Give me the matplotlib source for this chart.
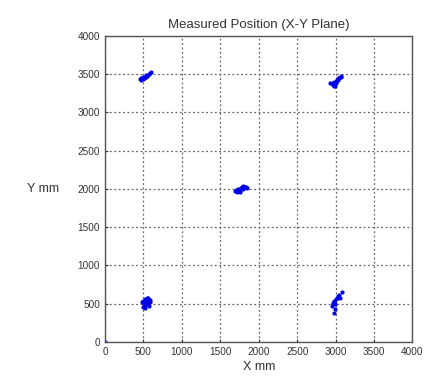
import matplotlib
matplotlib.use("Agg")
import matplotlib.pyplot as plt

plt.rcParams["font.family"] = ["Liberation Sans", "DejaVu Sans"]

# measured positions (mm), grouped by target
x_top_left = [450, 465, 480, 495, 505, 520, 535, 550, 560, 575, 590, 600, 470, 510, 490, 530]
y_top_left = [3440, 3450, 3445, 3460, 3450, 3470, 3465, 3480, 3490, 3500, 3510, 3530, 3430, 3455, 3435, 3490]

x_top_right = [2930, 2950, 2960, 2975, 2990, 3000, 3010, 3020, 3035, 3050, 3065, 3075, 2985, 3005, 2970, 3025]
y_top_right = [3380, 3390, 3370, 3400, 3350, 3380, 3410, 3420, 3430, 3450, 3465, 3480, 3340, 3395, 3360, 3445]

x_center = [1690, 1710, 1725, 1740, 1755, 1770, 1785, 1800, 1815, 1830, 1845, 1760, 1790, 1720]
y_center = [1970, 1980, 1995, 2000, 1990, 2010, 2020, 2005, 2030, 2025, 2015, 1960, 2040, 1955]

x_bottom_left = [480, 495, 505, 515, 525, 535, 545, 555, 565, 575, 590, 520, 540, 560, 500, 580]
y_bottom_left = [520, 540, 500, 560, 480, 530, 575, 510, 550, 470, 525, 440, 490, 580, 460, 545]

x_bottom_right = [2950, 2965, 2975, 2985, 2995, 3005, 3015, 3030, 3045, 3060, 3080, 2980, 2990, 2960]
y_bottom_right = [470, 490, 520, 540, 500, 560, 580, 600, 610, 580, 650, 380, 430, 510]

x_origin = [0]
y_origin = [0]

all_x = x_top_left + x_top_right + x_center + x_bottom_left + x_bottom_right + x_origin
all_y = y_top_left + y_top_right + y_center + y_bottom_left + y_bottom_right + y_origin

ticks = [0, 500, 1000, 1500, 2000, 2500, 3000, 3500, 4000]

fig = plt.figure(figsize=(4.27, 3.79), dpi=100)
ax = fig.add_axes([0.246, 0.098, 0.72, 0.807])

ax.plot(all_x, all_y, linestyle="none", marker=".", markersize=4, color="#0000e6")

ax.set_xlim(0, 4000)
ax.set_ylim(0, 4000)
ax.set_xticks(ticks)
ax.set_yticks(ticks)
ax.tick_params(labelsize=7.2, length=2, direction="in", colors="#333333")
ax.grid(True, linestyle=(0, (1.5, 2)), color="#666666", linewidth=0.9)
for s in ax.spines.values():
    s.set_color("#555555")
    s.set_linewidth(1.0)

ax.set_title("Measured Position (X-Y Plane)", fontsize=9.5, color="#333333", pad=6)
ax.set_xlabel("X mm", fontsize=9, color="#333333", labelpad=3)
ax.set_ylabel("Y mm", fontsize=9, color="#333333", rotation=0, labelpad=25, va="center")

fig.savefig("out.png", dpi=100)
